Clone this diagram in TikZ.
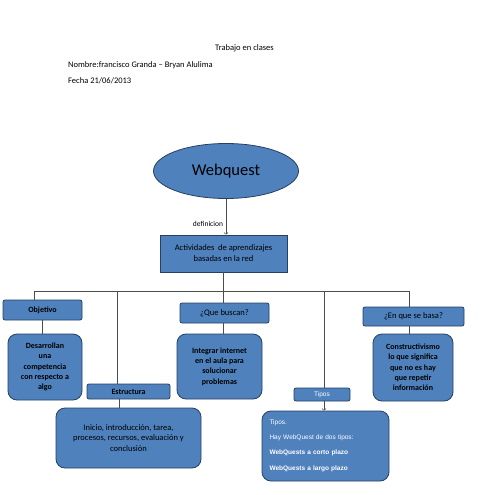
\documentclass[tikz,border=0pt]{standalone}
\usepackage{fontspec}
\setmainfont{Carlito}
\newfontfamily\arialfont{Liberation Sans}
\usetikzlibrary{positioning,shapes.geometric}
\definecolor{boxblue}{RGB}{79,129,189}
\definecolor{boxline}{RGB}{38,64,100}

\begin{document}
\begin{tikzpicture}[x=1pt,y=-1pt]
        \tikzstyle{every node}=[inner sep=1pt,font=\fontsize{8.5}{10}\selectfont]
        \tikzstyle{bluebox}=[draw=boxline,fill=boxblue,line width=0.8pt,align=center]
        \tikzstyle{roundbox}=[bluebox,rounded corners=9pt]
        \tikzstyle{tagbox}=[bluebox,rounded corners=2pt]
        \tikzstyle{link}=[draw=black!70,line width=0.6pt]
        \useasboundingbox[fill=white] (0,0) rectangle (495,495);

        % encabezado
        \node[anchor=west] (trabajo) at (214,48) {Trabajo en clases};
        \node[anchor=west] (nombre) at (67,65) {Nombre:francisco Granda -- Bryan Alulima};
        \node[anchor=west] (fecha) at (67,81) {Fecha 21/06/2013};

        % webquest
        \node[bluebox,ellipse,minimum width=145pt,minimum height=55pt,font=\fontsize{16.5}{19}\selectfont] (webquest) at (226,171) {Webquest};
        \node[bluebox,minimum width=127pt,minimum height=37pt,font=\fontsize{8.5}{11}\selectfont] (actividades) at (223.5,253.5) {Actividades\ \ de aprendizajes\\basadas en la red};
        \draw[link,->] (webquest.south) -- (webquest.south |- actividades.north);
        \node[font=\fontsize{7.5}{9}\selectfont] (definicion) at (208,224) {definicion};

        % barra
        \coordinate (bus) at (actividades.south |- 0,291);
        \coordinate (busleft) at (34,291);
        \coordinate (busright) at (409,291);
        \draw[link] (actividades.south) -- (bus);
        \draw[link] (busleft) -- (busright);

        % objetivo
        \node[tagbox,font=\bfseries\fontsize{8}{9}\selectfont,minimum width=79pt,minimum height=20pt] (objetivo) at (42.5,310) {Objetivo};
        \node[roundbox,font=\bfseries\fontsize{8}{10.3}\selectfont,minimum width=74pt,minimum height=66pt] (desarrollan) at (45,367) {Desarrollan\\una\\competencia\\con respecto a\\algo};
        \draw[link] (busleft) -- (busleft |- objetivo.north);
        \draw[link] (objetivo.south) -- (objetivo.south |- desarrollan.north);

        % estructura
        \node[tagbox,font=\bfseries\fontsize{8}{9}\selectfont,minimum width=83pt,minimum height=15pt] (estructura) at (128.5,391.5) {Estructura};
        \node[roundbox,font=\fontsize{8.5}{10.5}\selectfont,minimum width=145pt,minimum height=60pt] (inicio) at (128.5,438) {Inicio, introducción, tarea,\\procesos, recursos, evaluación y\\conclusión};
        \draw[link] (117,291) -- (117,291 |- estructura.north);
        \draw[link] (estructura.south -| 119,0) -- (119,0 |- inicio.north);

        % que buscan
        \node[tagbox,font=\fontsize{8.5}{9}\selectfont,minimum width=89pt,minimum height=20pt] (buscan) at (224.5,313) {¿Que buscan?};
        \node[roundbox,font=\bfseries\fontsize{8}{10.3}\selectfont,minimum width=85pt,minimum height=65pt] (integrar) at (219.5,366.5) {Integrar internet\\en el aula para\\solucionar\\problemas};
        \draw[link] (bus) -- (bus |- buscan.north);
        \draw[link] (buscan.south -| bus) -- (bus |- integrar.north);

        % tipos
        \node[tagbox,font=\arialfont\fontsize{6.5}{8}\selectfont,text=white,minimum width=56pt,minimum height=13pt] (tipos) at (322,394.5) {Tipos};
        \node[roundbox,font=\arialfont\fontsize{6.5}{8}\selectfont,text=white,minimum width=127pt,minimum height=70pt,align=left,text width=112pt] (tiposdetalle) at (325.5,446) {Tipos.\\[6.5pt]Hay WebQuest de dos tipos:\\[7.5pt]\textbf{WebQuests a corto plazo}\\[7.5pt]\textbf{WebQuests a largo plazo}};
        \draw[link] (324,291) -- (324,291 |- tipos.north);
        \draw[link,->] (tipos.south -| 324,0) -- (324,0 |- tiposdetalle.north);

        % en que se basa
        \node[tagbox,font=\fontsize{8.5}{9}\selectfont,minimum width=101pt,minimum height=19pt] (basa) at (413.5,316.5) {¿En que se basa?};
        \node[roundbox,font=\bfseries\fontsize{8}{10.3}\selectfont,minimum width=80pt,minimum height=67pt] (constructivismo) at (413,367.5) {Constructivismo\\lo que significa\\que no es hay\\que repetir\\información};
        \draw[link] (busright) -- (busright |- basa.north);
        \draw[link] (basa.south -| busright) -- (busright |- constructivismo.north);
    \end{tikzpicture}
\end{document}
